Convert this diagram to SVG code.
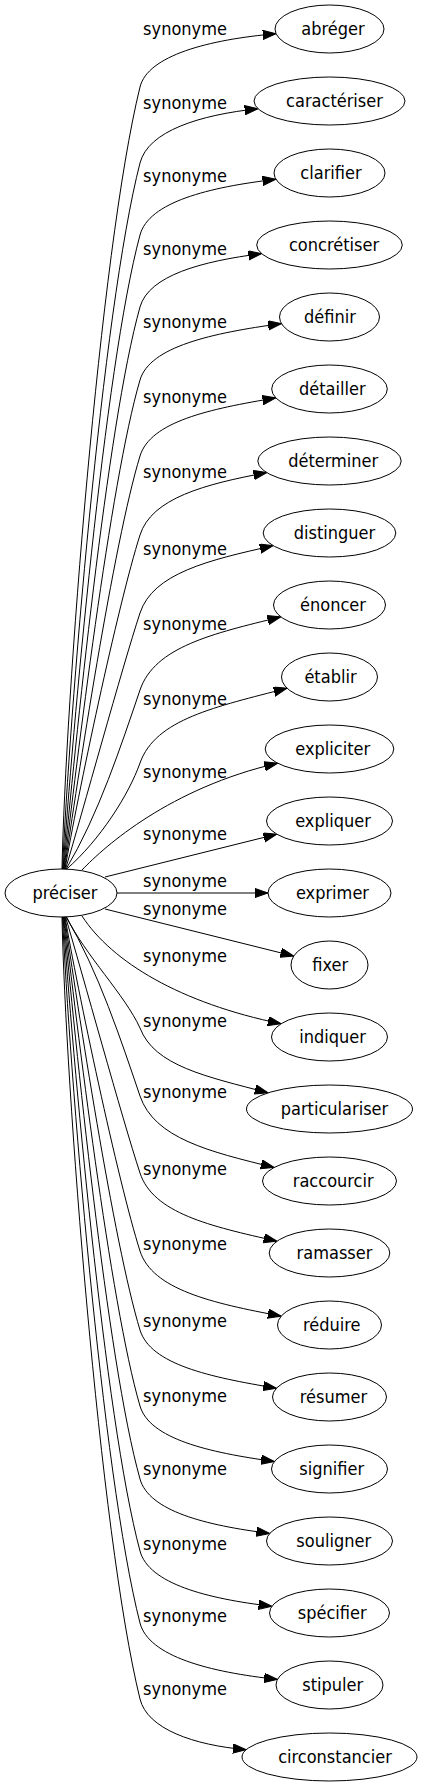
<svg xmlns="http://www.w3.org/2000/svg" width="422" height="1787" viewBox="0 0 422 1787">
<style>
.e path{fill:none;stroke:#000;stroke-width:1}
.n ellipse{fill:#fff;stroke:#000;stroke-width:1}
text{font-family:"DejaVu Sans Condensed","DejaVu Sans",sans-serif;font-stretch:condensed;font-size:18px;fill:#000;text-anchor:middle}
</style>
<defs>
<marker id="ah" markerUnits="userSpaceOnUse" markerWidth="14" markerHeight="10" refX="13.33" refY="4.67" orient="auto">
<path d="M0,0 L13.33,4.67 L0,9.33 Z" fill="#000" stroke="#000" stroke-width="1"/>
</marker>
</defs>
<rect width="422" height="1787" fill="#fff"/>
<g id="edges" class="e">
<g id="e0"><path marker-end="url(#ah)" d="M62,869.2 C65.3,704.9 99.7,251.3 140,87 C147.7,55.6 208.3,39.6 276.1,33.7"/><text x="185" y="35">synonyme</text></g>
<g id="e1"><path marker-end="url(#ah)" d="M62.5,869.2 C69.2,720.9 101.9,311.3 140,163 C148.2,131 199.3,115 258,108.7"/><text x="185" y="109">synonyme</text></g>
<g id="e2"><path marker-end="url(#ah)" d="M63,869.2 C72.3,736 104.2,368.2 140,235 C148.8,202.1 208.4,187.2 275.9,179.3"/><text x="185" y="182">synonyme</text></g>
<g id="e3"><path marker-end="url(#ah)" d="M63.5,869.2 C74.7,751.1 106.8,425.1 140,307 C148.9,275.5 201.3,261.3 261.6,253.6"/><text x="185" y="255">synonyme</text></g>
<g id="e4"><path marker-end="url(#ah)" d="M64,869.2 C76.3,766.5 109.9,482.7 140,380 C149.8,346.7 211.4,333.1 281.4,323.6"/><text x="185" y="328">synonyme</text></g>
<g id="e5"><path marker-end="url(#ah)" d="M64.5,869.2 C77.1,782.4 113.5,542.8 140,456 C150.5,421.7 208.8,409 275.8,397.9"/><text x="185" y="403">synonyme</text></g>
<g id="e6"><path marker-end="url(#ah)" d="M65,869.2 C76.9,799 117.7,605.2 140,535 C151.7,498.2 204.4,484.2 266.8,472.6"/><text x="185" y="478">synonyme</text></g>
<g id="e7"><path marker-end="url(#ah)" d="M65.5,869.2 C81.6,815.4 122.3,666.8 140,613 C153.1,573.3 208.2,560.2 273.1,545.7"/><text x="185" y="555">synonyme</text></g>
<g id="e8"><path marker-end="url(#ah)" d="M66,869.2 C98.3,815.4 121.7,743.8 140,690 C154.7,646.9 212.4,633.6 280.8,616.9"/><text x="185" y="630">synonyme</text></g>
<g id="e9"><path marker-end="url(#ah)" d="M66.5,869.2 C100,840 128.7,794.9 140,763 C155.6,718.9 215.9,706.9 287,688.2"/><text x="185" y="705">synonyme</text></g>
<g id="e10"><path marker-end="url(#ah)" d="M82,870 C105,846 170,788 277.6,763.2"/><text x="185" y="778">synonyme</text></g>
<g id="e11"><path marker-end="url(#ah)" d="M105,877 L276.8,834.2"/><text x="185" y="840">synonyme</text></g>
<g id="e12"><path marker-end="url(#ah)" d="M117,893 L268,893"/><text x="185" y="887">synonyme</text></g>
<g id="e13"><path marker-end="url(#ah)" d="M105,909 L293.8,956.1"/><text x="185" y="915">synonyme</text></g>
<g id="e14"><path marker-end="url(#ah)" d="M82,916 C112,962 180,1003 281.1,1023.8"/><text x="185" y="962">synonyme</text></g>
<g id="e15"><path marker-end="url(#ah)" d="M66.5,916.8 C85,955 125,995 140,1028 C154.5,1066 206.2,1076.5 268.1,1092.8"/><text x="185" y="1027">synonyme</text></g>
<g id="e16"><path marker-end="url(#ah)" d="M66,916.8 C98.3,970.6 121.7,1042.2 140,1096 C154.4,1138.2 209,1151.6 274.1,1167.5"/><text x="185" y="1098">synonyme</text></g>
<g id="e17"><path marker-end="url(#ah)" d="M65.5,916.8 C81.6,970.6 122.3,1119.2 140,1173 C153.2,1213.2 210.1,1226.2 277,1241.2"/><text x="185" y="1175">synonyme</text></g>
<g id="e18"><path marker-end="url(#ah)" d="M65,916.8 C76.9,987 117.7,1180.8 140,1251 C152.2,1289.4 211.8,1303.2 281.2,1316.1"/><text x="185" y="1250">synonyme</text></g>
<g id="e19"><path marker-end="url(#ah)" d="M64.5,916.8 C77.1,1003.6 113.5,1243.2 140,1330 C150.5,1364.3 209.2,1377.1 276.5,1388.2"/><text x="185" y="1327">synonyme</text></g>
<g id="e20"><path marker-end="url(#ah)" d="M64,916.8 C76.3,1019.5 109.9,1303.3 140,1406 C149.6,1438.7 207.8,1452.4 274.4,1461.5"/><text x="185" y="1402">synonyme</text></g>
<g id="e21"><path marker-end="url(#ah)" d="M63.5,916.8 C74.7,1034.9 106.8,1360.9 140,1479 C149,1511.1 205.4,1525.3 269.7,1533.4"/><text x="185" y="1475">synonyme</text></g>
<g id="e22"><path marker-end="url(#ah)" d="M63,916.8 C72.3,1050 104.2,1417.8 140,1551 C148.8,1583.6 206.4,1598.6 271.9,1606.3"/><text x="185" y="1550">synonyme</text></g>
<g id="e23"><path marker-end="url(#ah)" d="M62.5,916.8 C69.2,1065.1 101.9,1474.7 140,1623 C148.6,1656.3 209.2,1672.1 277.5,1679.4"/><text x="185" y="1622">synonyme</text></g>
<g id="e24"><path marker-end="url(#ah)" d="M62,916.8 C65.3,1081.1 99.7,1534.7 140,1699 C147.3,1728.9 193.4,1745.1 246.2,1749.7"/><text x="185" y="1695">synonyme</text></g>
</g>
<g id="n-preciser" class="n"><ellipse cx="61" cy="893" rx="56" ry="24"/><text x="65" y="899">préciser</text></g>
<g id="n-abreger" class="n"><ellipse cx="329.5" cy="29" rx="54.5" ry="24"/><text x="333" y="35">abréger</text></g>
<g id="n-caracteriser" class="n"><ellipse cx="329.5" cy="101" rx="75.5" ry="24"/><text x="334.5" y="107">caractériser</text></g>
<g id="n-clarifier" class="n"><ellipse cx="329.5" cy="173" rx="55.5" ry="24"/><text x="331" y="179">clarifier</text></g>
<g id="n-concretiser" class="n"><ellipse cx="329.5" cy="245" rx="72.8" ry="24"/><text x="334" y="251">concrétiser</text></g>
<g id="n-definir" class="n"><ellipse cx="329.5" cy="317" rx="50" ry="24"/><text x="330" y="323">définir</text></g>
<g id="n-detailler" class="n"><ellipse cx="329.5" cy="389" rx="57.8" ry="24"/><text x="332.3" y="395">détailler</text></g>
<g id="n-determiner" class="n"><ellipse cx="329.5" cy="461" rx="71.7" ry="24"/><text x="333.2" y="467">déterminer</text></g>
<g id="n-distinguer" class="n"><ellipse cx="329.5" cy="533" rx="66.3" ry="24"/><text x="334.5" y="539">distinguer</text></g>
<g id="n-enoncer" class="n"><ellipse cx="329.5" cy="605" rx="56" ry="24"/><text x="333" y="611">énoncer</text></g>
<g id="n-etablir" class="n"><ellipse cx="329.5" cy="677" rx="48" ry="24"/><text x="330.5" y="683">établir</text></g>
<g id="n-expliciter" class="n"><ellipse cx="329.5" cy="749" rx="64.3" ry="24"/><text x="332.8" y="755">expliciter</text></g>
<g id="n-expliquer" class="n"><ellipse cx="329.5" cy="821" rx="63" ry="24"/><text x="333" y="827">expliquer</text></g>
<g id="n-exprimer" class="n"><ellipse cx="329.5" cy="893" rx="61.5" ry="24"/><text x="332.5" y="899">exprimer</text></g>
<g id="n-fixer" class="n"><ellipse cx="329.5" cy="965" rx="38.5" ry="24"/><text x="330.2" y="971">fixer</text></g>
<g id="n-indiquer" class="n"><ellipse cx="329.5" cy="1037" rx="58" ry="24"/><text x="332.5" y="1043">indiquer</text></g>
<g id="n-particulariser" class="n"><ellipse cx="329.5" cy="1109" rx="83" ry="24"/><text x="334.5" y="1115">particulariser</text></g>
<g id="n-raccourcir" class="n"><ellipse cx="329.5" cy="1181" rx="67" ry="24"/><text x="333.2" y="1187">raccourcir</text></g>
<g id="n-ramasser" class="n"><ellipse cx="329.5" cy="1253" rx="60.3" ry="24"/><text x="334.5" y="1259">ramasser</text></g>
<g id="n-reduire" class="n"><ellipse cx="329.5" cy="1325" rx="52" ry="24"/><text x="331.7" y="1331">réduire</text></g>
<g id="n-resumer" class="n"><ellipse cx="329.5" cy="1397" rx="57" ry="24"/><text x="333.5" y="1403">résumer</text></g>
<g id="n-signifier" class="n"><ellipse cx="329.5" cy="1469" rx="58" ry="24"/><text x="331.7" y="1475">signifier</text></g>
<g id="n-souligner" class="n"><ellipse cx="329.5" cy="1541" rx="63" ry="24"/><text x="333.7" y="1547">souligner</text></g>
<g id="n-specifier" class="n"><ellipse cx="329.5" cy="1613" rx="60" ry="24"/><text x="332.2" y="1619">spécifier</text></g>
<g id="n-stipuler" class="n"><ellipse cx="329.5" cy="1685" rx="53.5" ry="24"/><text x="332.7" y="1691">stipuler</text></g>
<g id="n-circonstancier" class="n"><ellipse cx="329.5" cy="1757" rx="87.5" ry="24"/><text x="335" y="1763">circonstancier</text></g>
</svg>
